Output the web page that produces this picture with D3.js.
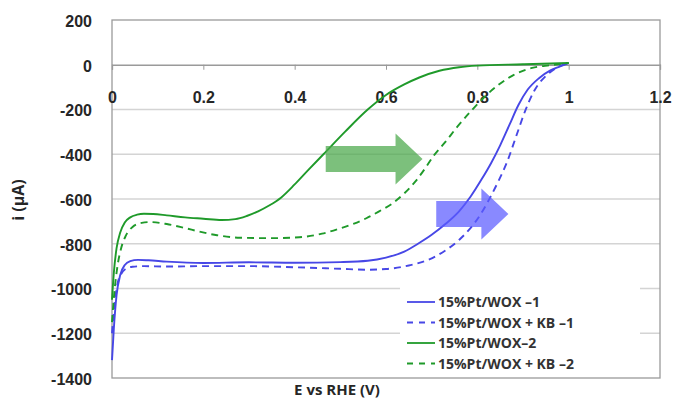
<!DOCTYPE html>
<html>
<head>
<meta charset="utf-8">
<script src="https://cdn.jsdelivr.net/npm/d3@7"></script>
<style>
  body { margin: 0; background: #fff; }
  svg { display: block; font-family: "Open Sans", "Liberation Sans", sans-serif; }
</style>
</head>
<body>
<div id="chart"></div>
<script>
// Potential (V vs RHE) and current (µA)
const ptWox1E = [0, 0.004, 0.01, 0.018, 0.028, 0.04, 0.057, 0.08, 0.12, 0.2, 0.3, 0.4, 0.5, 0.56, 0.6, 0.64, 0.67, 0.70, 0.73, 0.76, 0.785, 0.81, 0.83, 0.85, 0.87, 0.89, 0.91, 0.935, 0.96, 0.98, 1.0];
const ptWox1I = [-1320, -1180, -1030, -940, -895, -878, -872, -874, -880, -886, -883, -885, -882, -876, -862, -835, -800, -760, -712, -655, -590, -510, -440, -360, -270, -180, -112, -60, -25, -8, 8];

const ptWoxKb1E = [0, 0.005, 0.012, 0.02, 0.03, 0.045, 0.07, 0.12, 0.2, 0.3, 0.4, 0.5, 0.56, 0.6, 0.65, 0.695, 0.73, 0.76, 0.785, 0.805, 0.825, 0.845, 0.865, 0.885, 0.905, 0.925, 0.95, 0.975, 1.0];
const ptWoxKb1I = [-1200, -1080, -980, -935, -912, -903, -900, -902, -900, -900, -905, -912, -916, -913, -897, -870, -830, -783, -730, -675, -605, -525, -435, -320, -205, -115, -50, -12, 8];

const ptWox2E = [0, 0.004, 0.01, 0.018, 0.028, 0.04, 0.055, 0.07, 0.09, 0.12, 0.16, 0.2, 0.24, 0.27, 0.295, 0.32, 0.345, 0.37, 0.40, 0.43, 0.463, 0.51, 0.56, 0.6, 0.64, 0.673, 0.717, 0.76, 0.8, 0.9, 1.0];
const ptWox2I = [-1050, -930, -820, -750, -705, -682, -670, -666, -667, -673, -682, -688, -694, -690, -676, -655, -628, -594, -535, -470, -400, -300, -200, -135, -88, -57, -27, -11, -4, 2, 8];

const ptWoxKb2E = [0, 0.005, 0.012, 0.02, 0.03, 0.045, 0.065, 0.083, 0.12, 0.16, 0.19, 0.23, 0.28, 0.35, 0.41, 0.46, 0.5, 0.53, 0.557, 0.585, 0.614, 0.64, 0.665, 0.685, 0.705, 0.73, 0.755, 0.787, 0.815, 0.845, 0.88, 0.92, 0.96, 1.0];
const ptWoxKb2I = [-1150, -1020, -900, -820, -765, -725, -707, -703, -712, -730, -745, -762, -773, -775, -771, -755, -731, -710, -686, -655, -620, -575, -520, -465, -405, -345, -280, -205, -145, -92, -45, -14, -2, 8];

const seriesNames = ["15%Pt/WOX \u20131", "15%Pt/WOX + KB \u20131", "15%Pt/WOX\u20132", "15%Pt/WOX + KB \u20132"];
const xTicks = [0, 0.2, 0.4, 0.6, 0.8, 1, 1.2];
const yTicks = [200, 0, -200, -400, -600, -800, -1000, -1200, -1400];

// shift arrows: [from E, to E, at i]
const greenArrow = [0.468, 0.68, -421];
const blueArrow = [0.71, 0.868, -667];

const width = 675, height = 400;
const plot = { left: 112, right: 660, top: 20, bottom: 378 };

const x = d3.scaleLinear().domain([0, 1.2]).range([plot.left, plot.right]);
const y = d3.scaleLinear().domain([-1400, 200]).range([plot.bottom, plot.top]);

const blue = "#4747e6", green = "#1f9a2a";

const series = [
  { name: seriesNames[0], e: ptWox1E, i: ptWox1I, color: blue, dash: null },
  { name: seriesNames[1], e: ptWoxKb1E, i: ptWoxKb1I, color: blue, dash: "7,5" },
  { name: seriesNames[2], e: ptWox2E, i: ptWox2I, color: green, dash: null },
  { name: seriesNames[3], e: ptWoxKb2E, i: ptWoxKb2I, color: green, dash: "7,5" }
];

const svg = d3.select("#chart").append("svg")
  .attr("width", width)
  .attr("height", height);

// horizontal gridlines
svg.append("g")
  .selectAll("line")
  .data(yTicks.filter(t => t !== 0 && t !== 200 && t !== -1400))
  .join("line")
  .attr("x1", plot.left).attr("x2", plot.right)
  .attr("y1", d => y(d)).attr("y2", d => y(d))
  .attr("stroke", "#d4d4d4").attr("stroke-width", 1.3);

// plot border
svg.append("rect")
  .attr("x", plot.left).attr("y", plot.top)
  .attr("width", plot.right - plot.left).attr("height", plot.bottom - plot.top)
  .attr("fill", "none").attr("stroke", "#9a9a9a").attr("stroke-width", 1.3);

// y axis
const yAxis = svg.append("g")
  .attr("transform", `translate(${plot.left},0)`)
  .call(d3.axisLeft(y).tickValues(yTicks).tickSize(0).tickPadding(20).tickFormat(d => String(d)));
yAxis.select(".domain").remove();
yAxis.selectAll("text")
  .attr("font-size", 16).attr("font-weight", "bold").attr("fill", "#262626")
  .attr("dy", "0.4em");

// x axis on the zero line
const xAxis = svg.append("g")
  .attr("transform", `translate(0,${y(0)})`)
  .call(d3.axisBottom(x).tickValues(xTicks).tickSize(5).tickPadding(22).tickFormat(d => String(d)));
xAxis.select(".domain").attr("stroke", "#9a9a9a").attr("stroke-width", 1.3);
xAxis.selectAll(".tick line").attr("stroke", "#9a9a9a");
xAxis.selectAll("text")
  .attr("font-size", 16).attr("font-weight", "bold").attr("fill", "#262626");

// curves
const line = d3.line()
  .x(d => x(d[0]))
  .y(d => y(d[1]))
  .curve(d3.curveMonotoneX);

svg.append("g")
  .selectAll("path")
  .data(series)
  .join("path")
  .attr("d", s => line(d3.zip(s.e, s.i)))
  .attr("fill", "none")
  .attr("stroke", s => s.color)
  .attr("stroke-width", 1.9)
  .attr("stroke-dasharray", s => s.dash);

// block arrows
function blockArrow(a, color) {
  const x0 = x(a[0]), x1 = x(a[1]), yc = y(a[2]);
  const headLen = 27, bodyH = 13, headH = 25.5;
  const pts = [
    [x0, yc - bodyH], [x1 - headLen, yc - bodyH], [x1 - headLen, yc - headH],
    [x1, yc], [x1 - headLen, yc + headH], [x1 - headLen, yc + bodyH], [x0, yc + bodyH]
  ];
  svg.append("path")
    .attr("d", "M" + pts.map(p => p.join(",")).join("L") + "Z")
    .attr("fill", color)
    .attr("fill-opacity", 0.72);
}
blockArrow(greenArrow, "#4aa84a");
blockArrow(blueArrow, "#5b5bff");

// legend
const legend = svg.append("g").attr("transform", "translate(400,283)");
legend.append("rect")
  .attr("width", 240).attr("height", 94)
  .attr("fill", "#fff");
const item = legend.selectAll("g")
  .data(series)
  .join("g")
  .attr("transform", (d, k) => `translate(7,${19 + k * 20.5})`);
item.append("line")
  .attr("x1", 0).attr("x2", 28)
  .attr("stroke", d => d.color)
  .attr("stroke-width", 1.8)
  .attr("stroke-dasharray", d => d.dash ? "6,6" : null);
item.append("text")
  .attr("x", 31).attr("dy", "0.36em")
  .attr("font-size", 14).attr("font-weight", "bold").attr("fill", "#333")
  .text(d => d.name);

// axis titles
svg.append("text")
  .attr("transform", "translate(24,200) rotate(-90)")
  .attr("text-anchor", "middle")
  .attr("font-size", 16).attr("font-weight", "bold").attr("fill", "#262626")
  .text("i (\u00b5A)");

svg.append("text")
  .attr("x", 337).attr("y", 395)
  .attr("text-anchor", "middle")
  .attr("font-size", 15).attr("font-weight", "bold").attr("fill", "#262626")
  .text("E vs RHE (V)");
</script>
</body>
</html>
